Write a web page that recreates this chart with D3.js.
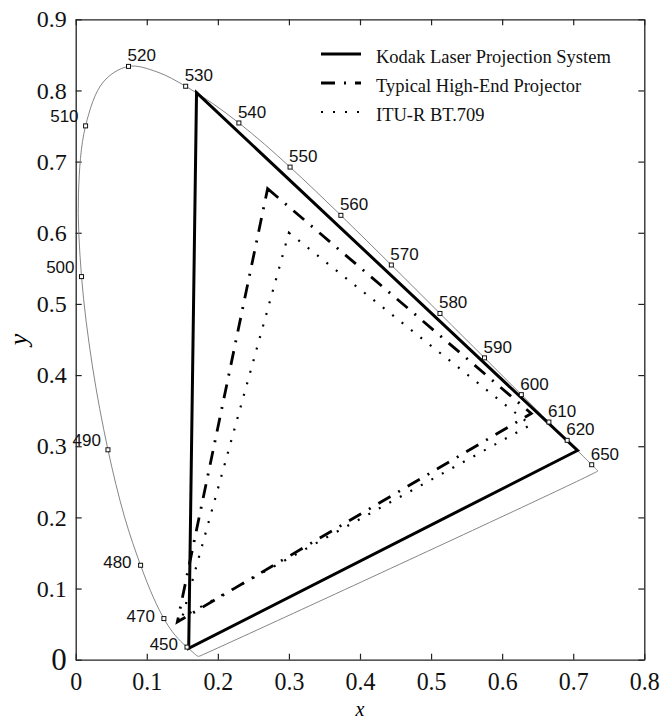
<!DOCTYPE html>
<html>
<head>
<meta charset="utf-8">
<script src="https://cdn.jsdelivr.net/npm/d3@7/dist/d3.min.js"></script>
<style>
  body { margin: 0; background: #fff; }
  svg { display: block; }
</style>
</head>
<body>
<div id="chart"></div>
<script>
// CIE 1931 spectral locus, 5 nm steps
var wavelengths = [380, 385, 390, 395, 400, 405, 410, 415, 420, 425, 430, 435, 440, 445, 450, 455, 460, 465, 470, 475,
  480, 485, 490, 495, 500, 505, 510, 515, 520, 525, 530, 535, 540, 545, 550, 555, 560, 565, 570, 575,
  580, 585, 590, 595, 600, 605, 610, 615, 620, 625, 630, 635, 640, 645, 650, 655, 660, 665, 670, 675,
  680, 685, 690, 695, 700]
var locusX = [0.1741, 0.1740, 0.1738, 0.1736, 0.1733, 0.1730, 0.1726, 0.1721, 0.1714, 0.1703, 0.1689, 0.1669, 0.1644, 0.1611, 0.1566, 0.1510, 0.1440, 0.1355, 0.1241, 0.1096,
  0.0913, 0.0687, 0.0454, 0.0235, 0.0082, 0.0039, 0.0139, 0.0389, 0.0743, 0.1142, 0.1547, 0.1929, 0.2296, 0.2658, 0.3016, 0.3373, 0.3731, 0.4087, 0.4441, 0.4788,
  0.5125, 0.5448, 0.5752, 0.6029, 0.6270, 0.6482, 0.6658, 0.6801, 0.6915, 0.7006, 0.7079, 0.7140, 0.7190, 0.7230, 0.7260, 0.7283, 0.7300, 0.7311, 0.7320, 0.7327,
  0.7334, 0.7340, 0.7344, 0.7346, 0.7347]
var locusY = [0.0050, 0.0050, 0.0049, 0.0049, 0.0048, 0.0048, 0.0048, 0.0048, 0.0051, 0.0058, 0.0069, 0.0086, 0.0109, 0.0138, 0.0177, 0.0227, 0.0297, 0.0399, 0.0578, 0.0868,
  0.1327, 0.2007, 0.2950, 0.4127, 0.5384, 0.6548, 0.7502, 0.8120, 0.8338, 0.8262, 0.8059, 0.7816, 0.7543, 0.7243, 0.6923, 0.6589, 0.6245, 0.5896, 0.5547, 0.5202,
  0.4866, 0.4544, 0.4242, 0.3965, 0.3725, 0.3514, 0.3340, 0.3197, 0.3083, 0.2993, 0.2920, 0.2859, 0.2809, 0.2770, 0.2740, 0.2717, 0.2700, 0.2689, 0.2680, 0.2673,
  0.2666, 0.2660, 0.2656, 0.2654, 0.2653]

// wavelengths that get a marker and a label
var markedWl = [450, 470, 480, 490, 500, 510, 520, 530, 540, 550, 560, 570, 580, 590, 600, 610, 620, 650]
var leftLabelled = [450, 470, 480, 490, 500, 510]

// gamut triangles (green, red, blue primaries)
var gamutNames = ['Kodak Laser Projection System', 'Typical High-End Projector', 'ITU-R BT.709']
var kodakX = [0.170, 0.706, 0.159]
var kodakY = [0.797, 0.294, 0.016]
var projectorX = [0.270, 0.641, 0.143]
var projectorY = [0.662, 0.346, 0.053]
var bt709X = [0.300, 0.640, 0.150]
var bt709Y = [0.600, 0.330, 0.060]

var xTicks = [0, 0.1, 0.2, 0.3, 0.4, 0.5, 0.6, 0.7, 0.8]
var yTicks = [0, 0.1, 0.2, 0.3, 0.4, 0.5, 0.6, 0.7, 0.8, 0.9]

var width = 662
var height = 721
var margin = { top: 19.3, right: 17.7, bottom: 61.3, left: 75.7 }

var serif = '"Liberation Serif", "Times New Roman", serif'
var sans = '"Liberation Sans", Arial, sans-serif'

var x = d3.scaleLinear().domain([0, 0.8]).range([margin.left, width - margin.right])
var y = d3.scaleLinear().domain([0, 0.9]).range([height - margin.bottom, margin.top])

var svg = d3.select('#chart').append('svg')
  .attr('width', width)
  .attr('height', height)

var tickFmt = function (d) { return d === 0 ? '0' : d3.format('.1f')(d) }

// Axes, ticks point inward on all four sides
var gx = svg.append('g')
  .attr('transform', 'translate(0,' + y(0) + ')')
  .call(d3.axisBottom(x).tickValues(xTicks).tickFormat(tickFmt).tickSizeInner(-6).tickSizeOuter(0).tickPadding(12))
gx.selectAll('text')
  .attr('font-family', serif)
  .attr('font-size', 26)
  .attr('transform', 'scale(0.92,1)')
  .attr('fill', '#111')

var gy = svg.append('g')
  .attr('transform', 'translate(' + x(0) + ',0)')
  .call(d3.axisLeft(y).tickValues(yTicks).tickFormat(tickFmt).tickSizeInner(-6).tickSizeOuter(0).tickPadding(9))
gy.selectAll('text')
  .attr('font-family', serif)
  .attr('font-size', function (d) { return d === 0 ? 31 : 24 })
  .attr('fill', '#111')

svg.append('g')
  .attr('transform', 'translate(0,' + y(0.9) + ')')
  .call(d3.axisTop(x).tickValues(xTicks).tickFormat('').tickSizeInner(-6).tickSizeOuter(0))

svg.append('g')
  .attr('transform', 'translate(' + x(0.8) + ',0)')
  .call(d3.axisRight(y).tickValues(yTicks).tickFormat('').tickSizeInner(-6).tickSizeOuter(0))

svg.selectAll('.domain').attr('stroke', '#222').attr('stroke-width', 1.3)
svg.selectAll('.tick line').attr('stroke', '#222').attr('stroke-width', 1.2)

// axis titles
svg.append('text')
  .attr('x', x(0.4))
  .attr('y', 716)
  .attr('text-anchor', 'middle')
  .attr('font-family', serif)
  .attr('font-style', 'italic')
  .attr('font-size', 20)
  .text('x')

svg.append('text')
  .attr('transform', 'translate(27,' + y(0.45) + ') rotate(-90)')
  .attr('text-anchor', 'middle')
  .attr('font-family', serif)
  .attr('font-style', 'italic')
  .attr('font-size', 26)
  .text('y')

// Spectral locus, closed with the purple line
var locus = wavelengths.map(function (w, i) { return { wl: w, x: locusX[i], y: locusY[i] } })

svg.append('path')
  .datum(locus)
  .attr('d', d3.line().x(function (d) { return x(d.x) }).y(function (d) { return y(d.y) }).curve(d3.curveCatmullRomClosed))
  .attr('fill', 'none')
  .attr('stroke', '#777')
  .attr('stroke-width', 0.9)

// gamut triangles
var gamuts = [
  { name: gamutNames[0], xs: kodakX, ys: kodakY, width: 3, dash: null },
  { name: gamutNames[1], xs: projectorX, ys: projectorY, width: 2.8, dash: '14,9,2,9' },
  { name: gamutNames[2], xs: bt709X, ys: bt709Y, width: 2.2, dash: '2,10' }
]

var triLine = d3.line().x(function (d) { return x(d[0]) }).y(function (d) { return y(d[1]) }).curve(d3.curveLinearClosed)

svg.selectAll('path.gamut')
  .data(gamuts)
  .enter().append('path')
  .attr('class', 'gamut')
  .attr('d', function (g) { return triLine(g.xs.map(function (v, i) { return [v, g.ys[i]] })) })
  .attr('fill', 'none')
  .attr('stroke', '#000')
  .attr('stroke-width', function (g) { return g.width })
  .attr('stroke-dasharray', function (g) { return g.dash })
  .attr('stroke-linejoin', 'miter')

// wavelength markers
var marked = locus.filter(function (d) { return markedWl.indexOf(d.wl) >= 0 })

svg.selectAll('rect.mark')
  .data(marked)
  .enter().append('rect')
  .attr('class', 'mark')
  .attr('x', function (d) { return x(d.x) - 2 })
  .attr('y', function (d) { return y(d.y) - 2 })
  .attr('width', 4)
  .attr('height', 4)
  .attr('fill', '#fff')
  .attr('stroke', '#111')
  .attr('stroke-width', 1)

svg.selectAll('text.wl')
  .data(marked)
  .enter().append('text')
  .attr('class', 'wl')
  .attr('font-family', sans)
  .attr('font-size', 17)
  .attr('fill', '#111')
  .attr('text-anchor', function (d) { return leftLabelled.indexOf(d.wl) >= 0 ? 'end' : 'start' })
  .attr('x', function (d) {
    if (leftLabelled.indexOf(d.wl) < 0) return x(d.x) - 1
    return x(d.x) - (d.wl >= 490 ? 7 : 9)
  })
  .attr('y', function (d) {
    if (leftLabelled.indexOf(d.wl) < 0) return y(d.y) - 5
    return y(d.y) + (d.wl >= 490 ? -4 : 3)
  })
  .text(function (d) { return d.wl })

// legend
var legend = svg.append('g')
  .selectAll('g')
  .data(gamuts)
  .enter().append('g')
  .attr('transform', function (g, i) { return 'translate(0,' + (63 + i * 29) + ')' })

legend.append('line')
  .attr('x1', 321)
  .attr('x2', 361)
  .attr('y1', -9)
  .attr('y2', -9)
  .attr('stroke', '#000')
  .attr('stroke-width', function (g) { return g.width })
  .attr('stroke-dasharray', function (g) { return g.dash })

legend.append('text')
  .attr('x', 376)
  .attr('y', 0)
  .attr('font-family', serif)
  .attr('font-size', 18.5)
  .attr('fill', '#111')
  .text(function (g) { return g.name })
</script>
</body>
</html>
